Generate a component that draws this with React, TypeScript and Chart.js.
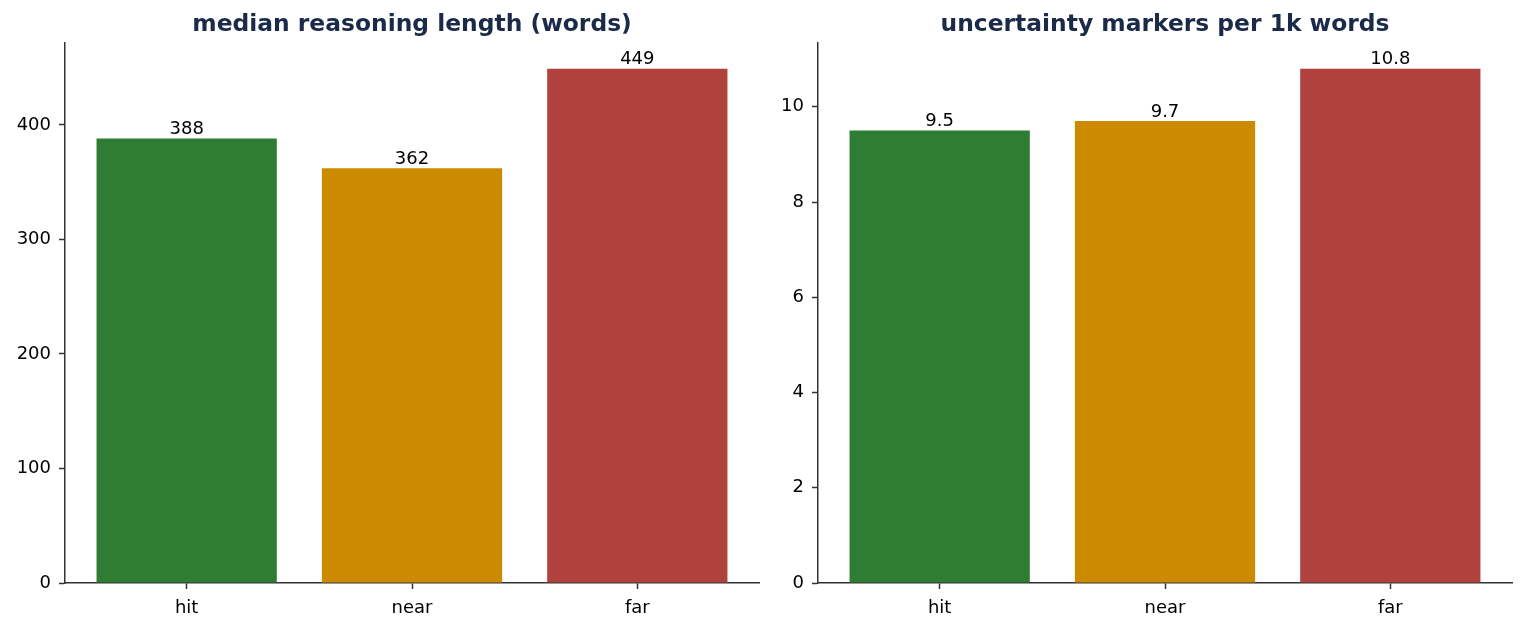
import React, { useEffect, useRef } from 'react';
import { Chart, registerables } from 'chart.js';

Chart.register(...registerables);

const categories = ['hit', 'near', 'far'];
const barColors = ['#2e7d32', '#cc8a00', '#b0413c'];

const lengthValues = [388, 362, 449];
const lengthLabels = ['388', '362', '449'];

const markerValues = [9.5, 9.7, 10.8];
const markerLabels = ['9.5', '9.7', '10.8'];

const FONT = "'DejaVu Sans', sans-serif";

interface PanelProps {
  title: string;
  values: number[];
  labels: string[];
  yMax: number;
  yStep: number;
  left: number;
  width: number;
  axisWidth: number;
  padRight: number;
}

const Panel: React.FC<PanelProps> = ({ title, values, labels, yMax, yStep, left, width, axisWidth, padRight }) => {
  const ref = useRef<HTMLCanvasElement | null>(null);

  useEffect(() => {
    if (!ref.current) return;

    // title + value labels drawn over the plot area
    const annotate = {
      id: 'annotate',
      afterDatasetsDraw(chart: any) {
        const ctx = chart.ctx;
        const area = chart.chartArea;
        ctx.save();
        ctx.fillStyle = '#1c2a4a';
        ctx.font = `bold 23.4px ${FONT}`;
        ctx.textAlign = 'center';
        ctx.textBaseline = 'middle';
        ctx.fillText(title, (area.left + area.right) / 2, 25);

        ctx.fillStyle = '#000';
        ctx.font = `18px ${FONT}`;
        ctx.textBaseline = 'bottom';
        chart.getDatasetMeta(0).data.forEach((bar: any, i: number) => {
          ctx.fillText(labels[i], bar.x, bar.y);
        });
        ctx.restore();
      },
    };

    const chart = new Chart(ref.current, {
      type: 'bar',
      data: {
        datasets: [
          {
            data: values.map((v, i) => ({ x: i, y: v })),
            backgroundColor: barColors,
            borderWidth: 0,
            barPercentage: 0.8,
            categoryPercentage: 1,
          },
        ],
      },
      options: {
        animation: false,
        responsive: false,
        maintainAspectRatio: false,
        layout: { padding: { top: 43, right: padRight, left: 0, bottom: 0 } },
        plugins: { legend: { display: false }, tooltip: { enabled: false }, title: { display: false } },
        scales: {
          x: {
            type: 'linear',
            offset: false,
            min: -0.54,
            max: 2.54,
            grid: { display: true, offset: false, drawOnChartArea: false, drawTicks: true, tickLength: 6, tickColor: '#333', tickWidth: 1.5 },
            border: { display: true, color: '#333', width: 1.5 },
            ticks: {
              stepSize: 1,
              includeBounds: false,
              autoSkip: false,
              maxRotation: 0,
              padding: 9,
              color: '#000',
              font: { family: FONT, size: 18 },
              callback: (v: any) => (Number.isInteger(v) ? categories[v] ?? '' : ''),
            },
            afterFit: (scale: any) => {
              scale.height = 47;
            },
          },
          y: {
            min: 0,
            max: yMax,
            grid: { display: true, drawOnChartArea: false, drawTicks: true, tickLength: 6, tickColor: '#333', tickWidth: 1.5 },
            border: { display: true, color: '#333', width: 1.5 },
            ticks: {
              stepSize: yStep,
              includeBounds: false,
              padding: 8,
              color: '#000',
              font: { family: FONT, size: 18 },
            },
            afterFit: (scale: any) => {
              scale.width = axisWidth;
            },
          },
        },
      },
      plugins: [annotate],
    });

    return () => chart.destroy();
  }, [title, values, labels, yMax, yStep, axisWidth, padRight]);

  return (
    <canvas
      ref={ref}
      width={width}
      height={630}
      style={{ position: 'absolute', left, top: 0, width, height: 630 }}
    />
  );
};

export default function App() {
  useEffect(() => {
    document.body.style.margin = '0';
  }, []);

  return (
    <div style={{ position: 'relative', width: 1525, height: 630, background: '#fff' }}>
      <Panel
        title="median reasoning length (words)"
        values={lengthValues}
        labels={lengthLabels}
        yMax={471.45}
        yStep={100}
        left={0}
        width={770}
        axisWidth={65}
        padRight={11}
      />
      <Panel
        title="uncertainty markers per 1k words"
        values={markerValues}
        labels={markerLabels}
        yMax={11.34}
        yStep={2}
        left={770}
        width={755}
        axisWidth={48}
        padRight={13}
      />
    </div>
  );
}
